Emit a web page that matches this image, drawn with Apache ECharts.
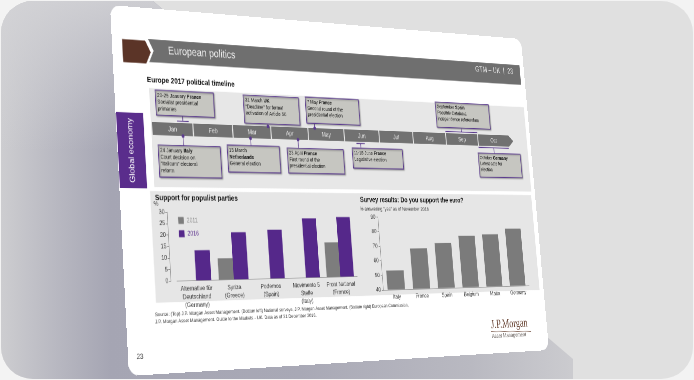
<!DOCTYPE html>
<html><head><meta charset="utf-8">
<script src="https://cdn.jsdelivr.net/npm/echarts@6.0.0/dist/echarts.min.js"></script>
<style>
html,body{margin:0;padding:0;width:694px;height:380px;overflow:hidden;background:#f3f3f3;}
#frame{position:absolute;left:1px;top:1px;width:692px;height:378px;border-radius:32px;background:#e0e0e0;overflow:hidden;}
#shade{position:absolute;left:0;top:0;width:692px;height:378px;
 clip-path:polygon(0 0,152px 0,572px 358px,572px 378px,0 378px);
 background:linear-gradient(180deg,rgba(212,212,215,0.85) 0px,rgba(212,212,215,0) 150px),linear-gradient(90deg,#cdcdd0 0px,#b8b8c1 55px,#a5a5b3 110px,#a9a9b6 300px,#b9b9c1 470px,#cbcbcf 570px);}
#slide{position:absolute;left:0;top:0;width:780px;height:470px;transform-origin:0 0;background:#fff;border-radius:15px;overflow:hidden;}
#chart{position:absolute;left:0;top:0;width:780px;height:470px;}
</style></head>
<body>
<div id="frame"><div id="shade"></div></div>
<div id="slide"><div id="chart"></div></div>
<script>
// ---------------- data ----------------
const months = ['Jan','Feb','Mar','Apr','May','Jun','Jul','Aug','Sep','Oct'];
const eventDate = ['20-29 January','24 January','31 March','15 March','7 May','23 April','11-18 June','September','October'];
const eventCountry = ['France','Italy','UK','Netherlands','France','France','France','Spain','Germany'];
const eventDesc = ['Socialist presidential\nprimaries','Court decision on\n“Italicum” electoral\nreform','“Deadline” for formal\nactivation of Article 50','General election','Second round of the\npresidential election','First round of the\npresidential election','Legislative election','Possible Catalonia\nindependence referendum','Latest date for\nelection'];
const eventStart = [0.61,0.74,2.93,2.45,4.19,3.71,5.33,8.0,9.0];
const eventEnd   = [0.90,0.74,2.93,2.45,4.19,3.71,5.57,9.0,9.97];
const eventSide  = ['above','below','above','below','above','below','below','above','below'];

const parties = ['Alternative für\nDeutschland\n(Germany)','Syriza\n(Greece)','Podemos\n(Spain)','Movimento 5\nStelle\n(Italy)','Front National\n(France)'];
const years = ['2011','2016'];
const support2011 = [null,9.5,null,null,16];
const support2016 = [13.2,21,22,27.2,27.8];
const supportAxis = {min:0,max:30,step:5};

const euroCountries = ['Italy','France','Spain','Belgium','Malta','Germany'];
const euroYes = [53,68,71.5,76.5,77.5,81.5];
const euroAxis = {min:40,max:90,step:10};

// ---------------- perspective layout ----------------
const W=780,H=470;
const quad=[[110,5],[521,39],[549,350],[129,376]];
function homography(q){
  const [x0,y0]=q[0],[x1,y1]=q[1],[x2,y2]=q[2],[x3,y3]=q[3];
  const dx1=x1-x2,dx2=x3-x2,dy1=y1-y2,dy2=y3-y2,sx=x0-x1+x2-x3,sy=y0-y1+y2-y3;
  const den=dx1*dy2-dx2*dy1;
  const g=(sx*dy2-dx2*sy)/den,h=(dx1*sy-sx*dy1)/den;
  const a=x1-x0+g*x1,b=x3-x0+h*x3,c=x0,d=y1-y0+g*y1,e=y3-y0+h*y3,f=y0;
  return [[a/W,b/H,c],[d/W,e/H,f],[g/W,h/H,1]];
}
function inv3(m){
  const [a,b,c]=m[0],[d,e,f]=m[1],[g,h,i]=m[2];
  const A=e*i-f*h,B=-(d*i-f*g),C=d*h-e*g,D=-(b*i-c*h),E=a*i-c*g,F=-(a*h-b*g),G=b*f-c*e,HH=-(a*f-c*d),I=a*e-b*d;
  const det=a*A+b*B+c*C;
  return [[A/det,D/det,G/det],[B/det,E/det,HH/det],[C/det,F/det,I/det]];
}
const HM=homography(quad), HI=inv3(HM);
document.getElementById('slide').style.transform=
 `matrix3d(${HM[0][0]},${HM[1][0]},0,${HM[2][0]},${HM[0][1]},${HM[1][1]},0,${HM[2][1]},0,0,1,0,${HM[0][2]},${HM[1][2]},0,${HM[2][2]})`;
function pt(x,y){const u=HI[0][0]*x+HI[0][1]*y+HI[0][2],v=HI[1][0]*x+HI[1][1]*y+HI[1][2],w=HI[2][0]*x+HI[2][1]*y+HI[2][2];return [u/w,v/w];}
function rectF(x1,y1,x2,y2){const a=pt(x1,y1);const r=pt(x2,y1)[0];const b=pt(x1,y2)[1];return {x:a[0],y:a[1],width:r-a[0],height:b-a[1]};}

const F="'Liberation Sans', Arial, Helvetica, sans-serif";
const PURPLE='#55288a', GREY='#7d7d7d', LINE='#8a8a8a';

const boxPx=[[155,90,213,115],[158,145,220,177],[243,95,298,123],[227,145,279,172],[305,97,358,123],[287,148,343,173],[352,148,402,168],[435,102,488,127],[478,153,520,177]];
const countryOwnLine=[0,0,0,1,0,0,0,0,0];
const boxRects=boxPx.map(b=>rectF(b[0],b[1],b[2],b[3]));

// grids
const tA=pt(152,122), tB=pt(509,141), tC=pt(152,135);
const gridT={left:tA[0],top:tA[1],width:tB[0]-tA[0],height:tC[1]-tA[1]};
const lA=pt(173,212), lR=pt(355,245)[0], lB=pt(173,281)[1];
const gridL={left:lA[0],top:lA[1],width:lR-lA[0],height:lB-lA[1]};
const lOffset=pt(173,250)[0]-pt(167,250)[0];
const rA=pt(378,217), rR=pt(526,250)[0], rB=pt(378,290)[1];
const gridR={left:rA[0],top:rA[1],width:rR-rA[0],height:rB-rA[1]};

// graphics
const G=[];
function addRect(r,fill,extra){G.push(Object.assign({type:'rect',silent:true,z:0,shape:{x:r.x,y:r.y,width:r.width,height:r.height},style:{fill}},extra||{}));}
function addText(x,y,text,style,extra){const p=pt(x,y);G.push(Object.assign({type:'text',silent:true,z:1,x:p[0],y:p[1],style:Object.assign({text,fontFamily:F,fill:'#222',fontSize:9,align:'left',verticalAlign:'middle'},style)},extra||{}));}

addRect(rectF(149,88,522,187),'#e7e7e7');
const lp=rectF(150,191,353,303);
addRect(lp,'#e6e6e6');
const rpL=pt(357,250)[0], rpR=pt(536,250)[0];
addRect({x:rpL,y:lp.y,width:rpR-rpL,height:lp.height},'#e6e6e6');

// header
const br=rectF(122,39,145,62), nb=pt(150,50)[0]-pt(145,50)[0];
G.push({type:'polygon',silent:true,shape:{points:[[br.x,br.y],[br.x+br.width,br.y],[br.x+br.width+nb,br.y+br.height/2],[br.x+br.width,br.y+br.height],[br.x,br.y+br.height]]},style:{fill:'#5b3427'}});
const hb=rectF(148,39,517,62);
G.push({type:'polygon',silent:true,shape:{points:[[hb.x,hb.y],[hb.x+hb.width,hb.y],[hb.x+hb.width,hb.y+hb.height],[hb.x,hb.y+hb.height],[hb.x+nb,hb.y+hb.height/2]]},style:{fill:'#6f6f6f'}});
addText(168,51,'European politics',{fill:'#f2f2f2',fontSize:15});
addText(513,72,'GTM – UK  |  23',{fill:'#e8e8e8',fontSize:11.5,align:'right'});
addText(147,80,'Europe 2017 political timeline',{fontWeight:'bold',fontSize:10.5,fill:'#111'});

// side tab
const tab=rectF(116,112,143,188);
addRect(tab,'#5a2d8c');
G.push({type:'text',silent:true,z:1,x:tab.x+tab.width/2,y:tab.y+tab.height/2,rotation:Math.PI/2,style:{text:'Global economy',fill:'#ffffff',fontSize:11.5,fontFamily:F,align:'center',verticalAlign:'middle'}});

// chart titles
addText(155,198,'Support for populist parties',{fontWeight:'bold',fontSize:10.5,fill:'#111'});
addText(156,204,'%',{fontSize:8.5,align:'center',fill:'#333'});
addText(360,200,'Survey results: Do you support the euro?',{fontWeight:'bold',fontSize:10.5,fill:'#111'});
addText(360,209,'% answering “yes” as of November 2016',{fontSize:7.5,fill:'#333'});

// footer
addText(155,315,'Source: (Top) J.P. Morgan Asset Management. (Bottom left) National surveys, J.P. Morgan Asset Management. (Bottom right) European Commission,',{fontSize:6.8,fill:'#333'});
addText(155,322,'J.P. Morgan Asset Management. Guide to the Markets - UK. Data as of 31 December 2016.',{fontSize:6.8,fill:'#333'});
addText(491,325,'J.P.Morgan',{fontSize:17.5,fill:'#6a4636',fontFamily:"'Liberation Serif','DejaVu Serif',serif"});
const ul1=pt(491,331.5), ul2=pt(531,331.5);
G.push({type:'line',silent:true,shape:{x1:ul1[0],y1:ul1[1],x2:ul2[0],y2:ul2[1]},style:{stroke:'#6a4636',lineWidth:0.8}});
addText(492,336.5,'Asset Management',{fontSize:8.5,fill:'#6b6460'});
addText(140,357,'23',{fontSize:9.5,fill:'#444',align:'center'});

// ---------------- chart ----------------
const chart=echarts.init(document.getElementById('chart'),null,{renderer:'canvas',devicePixelRatio:2});
const axisLbl={fontSize:8.5,color:'#333',fontFamily:F};
const option={
  animation:false,
  backgroundColor:'transparent',
  textStyle:{fontFamily:F},
  graphic:{elements:G},
  legend:{
    data:[{name:'2011',textStyle:{color:'#8a8a8a'}},{name:'2016',textStyle:{color:PURPLE}}],
    orient:'vertical',left:pt(178,216)[0],top:pt(178,217)[1],itemWidth:9,itemHeight:9,itemGap:8,icon:'rect',
    textStyle:{fontSize:8.5,fontFamily:F},padding:0
  },
  grid:[
    Object.assign({outerBoundsMode:'none'},gridT),
    Object.assign({outerBoundsMode:'none'},gridL),
    Object.assign({outerBoundsMode:'none'},gridR)
  ],
  xAxis:[
    {gridIndex:0,type:'value',min:0,max:months.length,show:false},
    {gridIndex:1,type:'category',data:parties,axisLine:{lineStyle:{color:LINE,width:0.8}},axisTick:{show:false},
     axisLabel:Object.assign({interval:0,margin:5,lineHeight:10.5,fontSize:8},axisLbl)},
    {gridIndex:2,type:'category',data:euroCountries,axisLine:{lineStyle:{color:LINE,width:0.8}},axisTick:{show:false},
     axisLabel:Object.assign({interval:0,margin:6,fontSize:8},axisLbl)}
  ],
  yAxis:[
    {gridIndex:0,type:'value',min:0,max:1,show:false},
    {gridIndex:1,type:'value',min:supportAxis.min,max:supportAxis.max,interval:supportAxis.step,offset:lOffset,
     axisLine:{show:true,lineStyle:{color:LINE,width:0.8}},axisTick:{show:true,length:3,lineStyle:{color:LINE}},splitLine:{show:false},
     axisLabel:Object.assign({margin:4},axisLbl)},
    {gridIndex:2,type:'value',min:euroAxis.min,max:euroAxis.max,interval:euroAxis.step,
     axisLine:{show:true,lineStyle:{color:LINE,width:0.8}},axisTick:{show:true,length:3,lineStyle:{color:LINE}},splitLine:{show:false},
     axisLabel:Object.assign({margin:5},axisLbl)}
  ],
  series:[
    {type:'custom',xAxisIndex:0,yAxisIndex:0,clip:false,z:3,
     data:months.map((m,i)=>[i,i+1]),
     renderItem:function(params,api){
       const i=params.dataIndex;
       const a=api.coord([api.value(0),1]), b=api.coord([api.value(1),0]);
       const x0=a[0]+(i>0?0.9:0), x1=b[0]-0.9, y0=a[1], y1=b[1];
       const last=i===months.length-1;
       const tip=(y1-y0)*0.6;
       const pts=last?[[x0,y0],[x1,y0],[x1+tip,(y0+y1)/2],[x1,y1],[x0,y1]]:[[x0,y0],[x1,y0],[x1,y1],[x0,y1]];
       return {type:'group',children:[
         {type:'polygon',shape:{points:pts},style:{fill:'#717171'}},
         {type:'text',x:(x0+x1)/2,y:(y0+y1)/2+0.5,style:{text:months[i],fill:'#e9e9e9',fontSize:9,fontFamily:F,align:'center',verticalAlign:'middle'}}
       ]};
     }},
    {type:'custom',xAxisIndex:0,yAxisIndex:0,clip:false,z:4,
     data:eventStart.map((s,i)=>[s,eventEnd[i]]),
     renderItem:function(params,api){
       const i=params.dataIndex;
       const s=api.value(0), e=api.value(1);
       const above=eventSide[i]==='above';
       const p0=api.coord([s,above?1:0]), p1=api.coord([e,above?1:0]);
       const b=boxRects[i];
       const col='#5b3b8e';
       const ch=[];
       let cx,cy;
       if(e>s){
         cy=p0[1]+(above?-2.5:2.5);
         cx=(p0[0]+p1[0])/2;
         ch.push({type:'line',shape:{x1:p0[0],y1:cy,x2:p1[0],y2:cy},style:{stroke:col,lineWidth:1.3}});
       }else{
         cx=p0[0]; cy=p0[1];
         ch.push({type:'circle',z2:5,shape:{cx:cx,cy:cy,r:2.4},style:{fill:col}});
       }
       const by=above?b.y+b.height:b.y;
       ch.push({type:'line',shape:{x1:cx,y1:cy,x2:cx,y2:by},style:{stroke:col,lineWidth:1}});
       ch.push({type:'rect',shape:{x:b.x,y:b.y,width:b.width,height:b.height},
         style:{fill:'#c6c6c1',stroke:col,lineWidth:1.2,shadowBlur:2,shadowOffsetX:1.2,shadowOffsetY:1.2,shadowColor:'rgba(0,0,0,0.35)'}});
       const sep=countryOwnLine[i]?'\n':' ';
       const txt='{n|'+eventDate[i]+'}'+sep+'{b|'+eventCountry[i]+'}\n{n|'+eventDesc[i]+'}';
       ch.push({type:'text',x:b.x+3,y:b.y+2.5,style:{text:txt,fontSize:7.4,lineHeight:8.8,fontFamily:F,fill:'#111',align:'left',verticalAlign:'top',
         rich:{n:{fontSize:7.4,lineHeight:8.8,fontFamily:F,fill:'#111'},b:{fontSize:7.4,lineHeight:8.8,fontFamily:F,fontWeight:'bold',fill:'#111'}}}});
       return {type:'group',children:ch};
     }},
    {name:years[0],type:'bar',xAxisIndex:1,yAxisIndex:1,data:support2011,itemStyle:{color:GREY},barGap:'0%',barCategoryGap:'20%'},
    {name:years[1],type:'bar',xAxisIndex:1,yAxisIndex:1,data:support2016,itemStyle:{color:PURPLE},barGap:'0%',barCategoryGap:'20%'},
    {name:'euro',type:'bar',xAxisIndex:2,yAxisIndex:2,data:euroYes,itemStyle:{color:'#7b7b7b'},barCategoryGap:'32%'}
  ]
};
chart.setOption(option);
</script>
</body></html>
